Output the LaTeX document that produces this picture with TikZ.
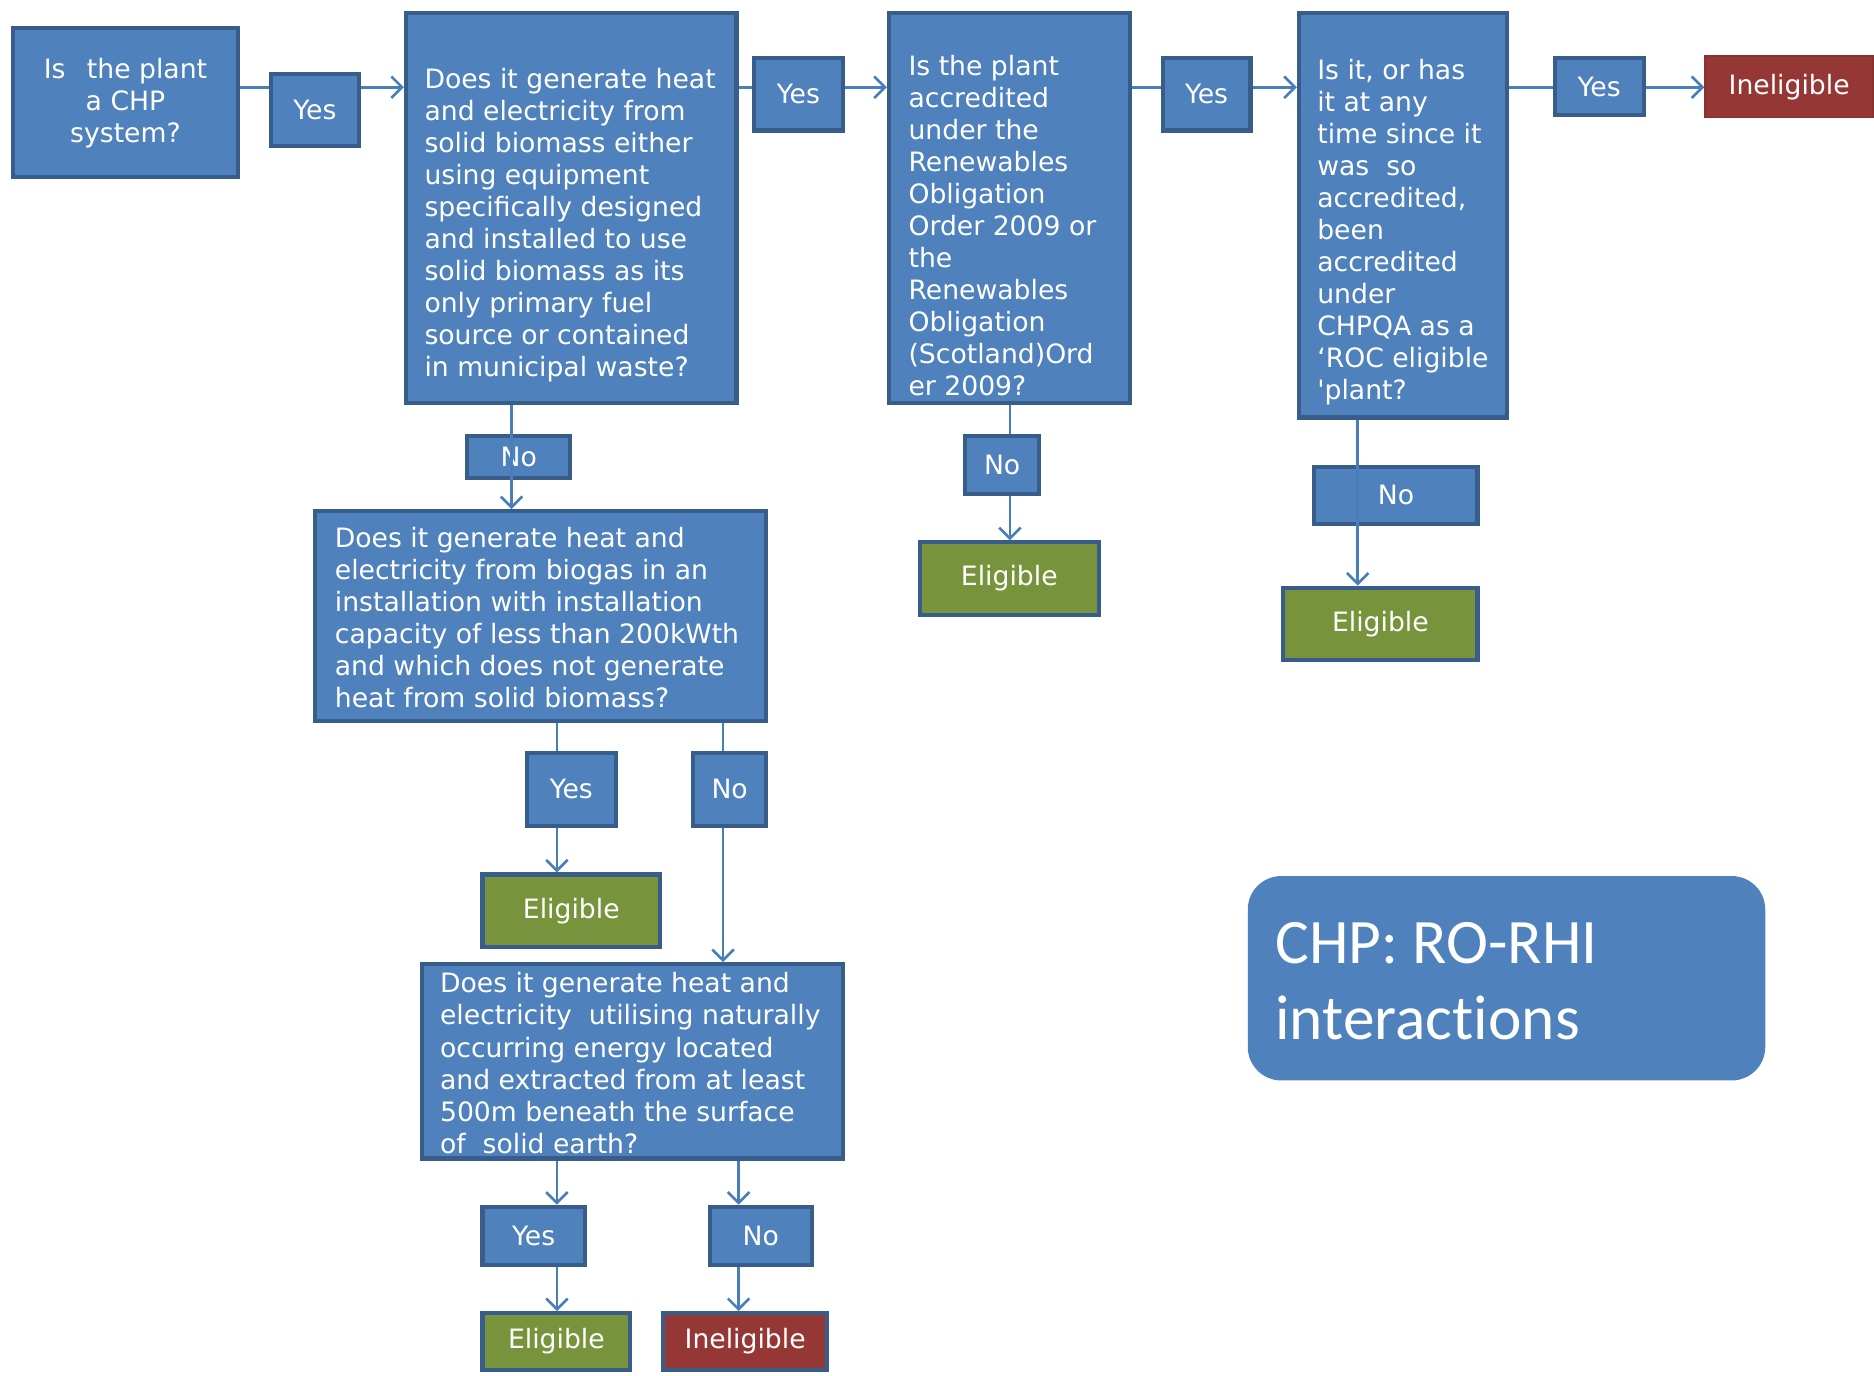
\documentclass[tikz,border=0pt]{standalone}
\usepackage{fontspec}
\setmainfont{DejaVu Sans}
\newfontfamily\titlefont{Carlito}[Ligatures=NoCommon]
\usetikzlibrary{arrows.meta,backgrounds}
\definecolor{boxblue}{HTML}{4F81BD}
\definecolor{boxline}{HTML}{385D8A}
\definecolor{connblue}{HTML}{4A7EBB}
\definecolor{okgreen}{HTML}{77933C}
\definecolor{badred}{HTML}{953735}
\definecolor{badredline}{HTML}{8A3230}
\tikzset{
  qbox/.style={draw=boxline, fill=boxblue, line width=3.5pt, inner sep=0pt, text=white,
    font=\fontsize{22.3}{26.8}\selectfont},
  lblbox/.style={qbox},
  eligbox/.style={qbox, fill=okgreen},
  inelbox/.style={qbox, fill=badred},
  qtext/.style={inner sep=0pt, text=white, align=left, font=\fontsize{22.3}{26.8}\selectfont},
  conn/.style={draw=connblue, line width=2.2pt},
  arr/.style={conn, -{Straight Barb[length=9pt,width=18pt,line width=2.2pt]}},
}
\begin{document}
\begin{tikzpicture}[x=1pt,y=-1pt]
\useasboundingbox (0,0) rectangle (1568,1151);
% main question boxes
\node[qbox, minimum width=188.5pt, minimum height=124.5pt, align=center] (b1) at (105,86) {};
\node[qtext, align=center] (b1t) at (105,86.5) {Is\ \ \,the plant\\a CHP\\system?};
\node[qbox, minimum width=276.5pt, minimum height=326.5pt] (b2) at (478,174) {};
\node[qtext, anchor=west] (b2t) at (355,188.5) {Does it generate heat\\and electricity from\\solid biomass either\\using equipment\\specifically designed\\and installed to use\\solid biomass as its\\only primary fuel\\source or contained\\in municipal waste?};
\node[qbox, minimum width=201.5pt, minimum height=326.5pt] (b3) at (844.5,174) {};
\node[qtext, anchor=west] (b3t) at (760,188.5) {Is the plant\\accredited\\under the\\Renewables\\Obligation\\Order 2009 or\\the\\Renewables\\Obligation\\(Scotland)Ord\\er 2009?};
\node[qbox, minimum width=174.5pt, minimum height=338.5pt] (b4) at (1174,180) {};
\node[qtext, anchor=west] (b4t) at (1102,194) {Is it, or has\\it at any\\time since it\\was\ \ so\\accredited,\\been\\accredited\\under\\CHPQA as a\\‘ROC eligible\\\textquotesingle plant?};
\node[qbox, minimum width=377.5pt, minimum height=175.5pt] (b5) at (452.5,515.5) {};
\node[qtext, anchor=west] (b5t) at (280,517) {Does it generate heat and\\electricity from biogas in an\\installation with installation\\capacity of less than 200kWth\\and which does not generate\\heat from solid biomass?};
\node[qbox, minimum width=352.5pt, minimum height=162.5pt] (b6) at (529,888) {};
\node[qtext, anchor=west] (b6t) at (368,889.5) {Does it generate heat and\\electricity\ \ utilising naturally\\occurring energy located\\and extracted from at least\\500m beneath the surface\\of\ \ solid earth?};
% outcomes
\node[inelbox, draw=badredline, line width=1.5pt, minimum width=140.5pt, minimum height=51.5pt] (i1) at (1497,72.5) {Ineligible};
\node[eligbox, minimum width=149.5pt, minimum height=60.5pt] (e3) at (844.5,484) {Eligible};
\node[eligbox, minimum width=162.5pt, minimum height=60.5pt] (e4) at (1155,522) {Eligible};
\node[eligbox, minimum width=148.5pt, minimum height=60.5pt] (e5) at (478,762) {Eligible};
\node[eligbox, minimum width=123.5pt, minimum height=47.5pt] (e6) at (465.5,1122.5) {Eligible};
\node[inelbox, minimum width=137.5pt, minimum height=47.5pt] (i6) at (623.5,1122.5) {Ineligible};
% title
\node[fill=boxblue, rounded corners=28pt, minimum width=433pt, minimum height=171pt, inner sep=0pt] (title) at (1260.5,818.5) {};
\node[inner sep=0pt, anchor=west, align=left, text=white, font=\titlefont\fontsize{53}{63}\selectfont] (titlet) at (1067,821) {CHP: RO-RHI\\interactions};
% helper coordinates
\coordinate (r73) at (0,73);
\coordinate (c428) at (428,0);
\coordinate (c845) at (845,0);
\coordinate (c1136) at (1136,0);
\coordinate (c466) at (466,0);
\coordinate (c605) at (605,0);
\coordinate (c618) at (618,0);
% connectors hidden behind labels
\begin{scope}[on background layer]
\draw[arr] (b1.east |- r73) -- (b2.west |- r73);
\draw[arr] (b2.east |- r73) -- (b3.west |- r73);
\draw[arr] (b3.east |- r73) -- (b4.west |- r73);
\draw[arr] (b4.east |- r73) -- (i1.west |- r73);
\draw[conn] (b3.south -| c845) -- (c845 |- 0,380);
\draw[arr] (c845 |- 0,400) -- (e3.north -| c845);
\draw[conn] (b5.south -| c466) -- (c466 |- 0,650);
\draw[arr] (c466 |- 0,670) -- (e5.north -| c466);
\draw[conn] (b5.south -| c605) -- (c605 |- 0,650);
\draw[arr] (c605 |- 0,670) -- (b6.north -| c605);
\draw[arr] (b6.south -| c466) -- (c466 |- 0,1008);
\draw[arr] (c466 |- 0,1040) -- (e6.north -| c466);
\draw[arr] (b6.south -| c618) -- (c618 |- 0,1008);
\draw[arr] (c618 |- 0,1040) -- (i6.north -| c618);
\end{scope}
% label boxes
\node[lblbox, minimum width=73.5pt, minimum height=60.5pt] (y1) at (263.5,92) {Yes};
\node[lblbox, minimum width=74.5pt, minimum height=60.5pt] (y2) at (668,79) {Yes};
\node[lblbox, minimum width=73.5pt, minimum height=60.5pt] (y3) at (1009.5,79) {Yes};
\node[lblbox, minimum width=74.5pt, minimum height=47.5pt] (y4) at (1338,72.5) {Yes};
\node[lblbox, minimum width=86.5pt, minimum height=35.5pt] (n1) at (434,382.5) {No};
\node[lblbox, minimum width=61.5pt, minimum height=48.5pt] (n3) at (838.5,389) {No};
\node[lblbox, minimum width=136.5pt, minimum height=47.5pt] (n4) at (1168,414.5) {No};
\node[lblbox, minimum width=74.5pt, minimum height=61.5pt] (y5) at (478,660.5) {Yes};
\node[lblbox, minimum width=61.5pt, minimum height=61.5pt] (n5) at (610.5,660.5) {No};
\node[lblbox, minimum width=85.5pt, minimum height=48.5pt] (y6) at (446.5,1034) {Yes};
\node[lblbox, minimum width=85.5pt, minimum height=48.5pt] (n6) at (636.5,1034) {No};
% connectors drawn over labels
\draw[arr] (b2.south -| c428) -- (b5.north -| c428);
\draw[arr] (b4.south -| c1136) -- (e4.north -| c1136);
\end{tikzpicture}
\end{document}
